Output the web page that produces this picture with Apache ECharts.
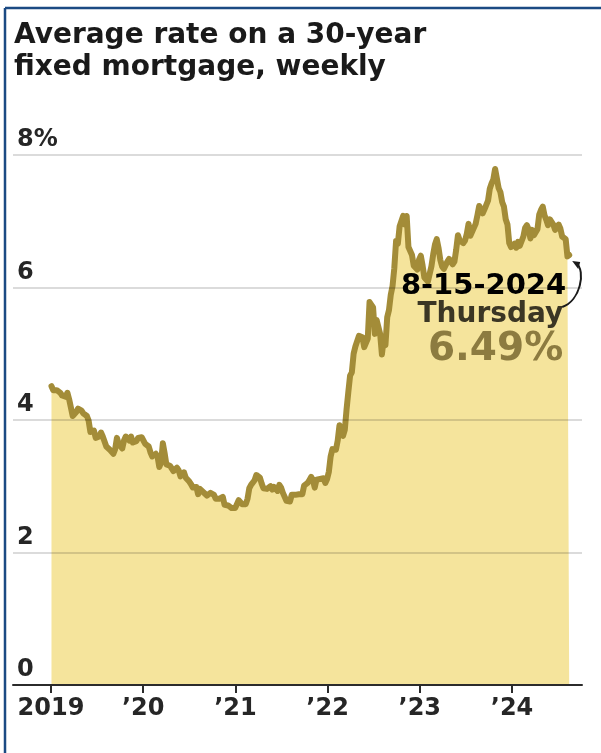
<!DOCTYPE html>
<html>
<head>
<meta charset="utf-8">
<script src="https://cdn.jsdelivr.net/npm/echarts@6/dist/echarts.min.js"></script>
<style>
html,body{margin:0;padding:0;background:#fff;}
#chart{width:601px;height:753px;}
</style>
</head>
<body>
<div id="chart"></div>
<script>
// Freddie Mac 30-year fixed, weekly, first release Thursday 2019-01-03
const firstWeek = '2019-01-03';
const rates2019 = [4.51,4.45,4.45,4.45,4.46,4.41,4.37,4.35,4.35,4.41,4.31,4.28,4.06,4.08,4.12,4.17,4.20,4.14,4.10,4.07,4.06,3.99,3.82,3.82,3.84,3.73,3.75,3.75,3.81,3.75,3.75,3.60,3.60,3.55,3.58,3.49,3.56,3.73,3.64,3.65,3.57,3.69,3.75,3.78,3.69,3.75,3.66,3.68,3.68,3.73,3.73,3.74];
const rates2020 = [3.72,3.64,3.65,3.60,3.51,3.45,3.47,3.49,3.45,3.29,3.36,3.65,3.50,3.33,3.33,3.31,3.33,3.23,3.26,3.28,3.24,3.15,3.18,3.21,3.13,3.13,3.07,3.03,2.98,3.01,2.99,2.88,2.96,2.99,2.91,2.93,2.86,2.87,2.90,2.88,2.87,2.81,2.80,2.81,2.78,2.84,2.72,2.72,2.71,2.71,2.67,2.66,2.67];
const rates2021 = [2.65,2.79,2.77,2.73,2.73,2.73,2.81,2.97,3.02,3.05,3.09,3.17,3.18,3.13,3.04,2.97,2.98,2.96,2.94,3.00,2.95,2.99,2.96,2.93,3.02,2.98,2.90,2.88,2.78,2.80,2.77,2.87,2.86,2.87,2.87,2.88,2.86,2.88,3.01,2.99,3.05,3.09,3.14,3.09,2.98,3.10,3.10,3.11,3.10,3.12,3.05,3.11];
const rates2022 = [3.22,3.45,3.56,3.55,3.55,3.69,3.92,3.89,3.76,3.85,4.16,4.42,4.67,4.72,5.00,5.11,5.10,5.27,5.30,5.25,5.10,5.09,5.23,5.78,5.81,5.70,5.30,5.51,5.54,5.30,4.99,5.22,5.13,5.55,5.66,5.89,6.02,6.29,6.70,6.66,6.92,6.94,7.08,6.95,7.08,6.61,6.58,6.49,6.33,6.31,6.27,6.42];
const rates2023 = [6.48,6.33,6.15,6.13,6.09,6.12,6.32,6.50,6.65,6.73,6.60,6.42,6.32,6.28,6.27,6.39,6.43,6.39,6.35,6.39,6.57,6.79,6.71,6.69,6.67,6.71,6.81,6.96,6.78,6.81,6.90,6.96,7.09,7.23,7.18,7.12,7.18,7.19,7.31,7.49,7.57,7.63,7.79,7.76,7.50,7.44,7.29,7.22,7.03,6.95,6.67,6.61];
const rates2024 = [6.62,6.66,6.60,6.69,6.63,6.64,6.77,6.90,6.94,6.88,6.74,6.87,6.79,6.82,6.88,7.10,7.17,7.22,7.09,7.02,6.94,7.03,6.99,6.95,6.87,6.86,6.95,6.89,6.77,6.78,6.73,6.47,6.49];

const yearTicks = [2019, 2020, 2021, 2022, 2023, 2024];
const yearLabels = ['2019', '\u201920', '\u201921', '\u201922', '\u201923', '\u201924'];
const yTicks = [0, 2, 4, 6, 8];

const titleText = 'Average rate on a 30-year\nfixed mortgage, weekly';
const noteDate = '8-15-2024';
const noteDay = 'Thursday';
const noteValue = '6.49%';

const allRates = [].concat(rates2019, rates2020, rates2021, rates2022, rates2023, rates2024);
const t0 = Date.parse(firstWeek + 'T00:00:00Z');
function decYear(t) {
  const d = new Date(t);
  const y = d.getUTCFullYear();
  const a = Date.UTC(y, 0, 1), b = Date.UTC(y + 1, 0, 1);
  return y + (t - a) / (b - a);
}
const seriesData = allRates.map((v, i) => [decYear(t0 + i * 7 * 86400000), v]);

const chart = echarts.init(document.getElementById('chart'), null, {renderer: 'canvas'});
const LINE = '#a38c38';
const FILL = '#f5e49c';
const LABEL_FONT = {fontFamily: 'DejaVu Sans', fontWeight: 'bold', fontSize: 24, color: '#262626'};

chart.setOption({
  animation: false,
  backgroundColor: '#ffffff',
  title: {
    text: titleText,
    left: 14, top: 20, padding: 0,
    textStyle: {fontFamily: 'DejaVu Sans', fontWeight: 'bold', fontSize: 28, lineHeight: 32, color: '#1a1a1a'}
  },
  grid: {left: 13, right: 19, top: 155, bottom: 68, containLabel: false},
  xAxis: {
    type: 'value',
    min: 2018.588, max: 2024.759,
    z: 4,
    axisLine: {show: true, onZero: false, lineStyle: {color: '#2b2b2b', width: 2}},
    axisTick: {show: true, customValues: yearTicks, length: 8, inside: false, lineStyle: {color: '#2b2b2b', width: 2}},
    axisLabel: Object.assign({
      customValues: yearTicks, margin: 12,
      formatter: v => yearLabels[yearTicks.indexOf(Math.round(v))] || ''
    }, LABEL_FONT),
    splitLine: {show: false}
  },
  yAxis: {
    type: 'value', min: 0, max: 8, interval: 2,
    z: 3,
    axisLine: {show: false}, axisTick: {show: false},
    axisLabel: Object.assign({
      inside: true, margin: 4, verticalAlign: 'bottom', padding: [0, 0, 3, 0],
      formatter: v => (v === 8 ? v + '%' : String(v))
    }, LABEL_FONT),
    splitLine: {show: true, lineStyle: {color: 'rgba(0,0,0,0.14)', width: 2}}
  },
  series: [{
    type: 'line',
    data: seriesData,
    showSymbol: false,
    z: 2,
    lineStyle: {color: LINE, width: 6, join: 'round', cap: 'round'},
    areaStyle: {color: FILL, opacity: 1},
    silent: true
  }]
});

function placeNote() {
  const last = seriesData[seriesData.length - 1];
  const p = chart.convertToPixel({gridIndex: 0}, last);
  const ex = p[0], ey = p[1];
  chart.setOption({
    graphic: [
      {type: 'line', shape: {x1: 5, y1: 8, x2: 5, y2: 753}, style: {stroke: '#1b4a83', lineWidth: 2.5}, z: 100},
      {type: 'line', shape: {x1: 5, y1: 8, x2: 601, y2: 8}, style: {stroke: '#1b4a83', lineWidth: 2.5}, z: 100},
      {type: 'text', x: ex - 3, y: ey + 31, z: 50,
        style: {text: noteDate, align: 'right', verticalAlign: 'middle', fontFamily: 'DejaVu Sans', fontWeight: 'bold', fontSize: 29, fill: '#000'}},
      {type: 'text', x: ex - 6, y: ey + 60, z: 50,
        style: {text: noteDay, align: 'right', verticalAlign: 'middle', fontFamily: 'DejaVu Sans', fontWeight: 'bold', fontSize: 28, fill: '#3b3624'}},
      {type: 'text', x: ex - 6, y: ey + 95, z: 50,
        style: {text: noteValue, align: 'right', verticalAlign: 'middle', fontFamily: 'DejaVu Sans', fontWeight: 'bold', fontSize: 39, fill: '#8c7b40'}},
      {type: 'bezierCurve', z: 50,
        shape: {x1: ex - 7, y1: ey + 52, cpx1: ex + 11, cpy1: ey + 46, cpx2: ex + 17, cpy2: ey + 16, x2: ex + 7, y2: ey + 8},
        style: {stroke: '#1a1a1a', lineWidth: 2, fill: null}},
      {type: 'polygon', z: 50,
        shape: {points: [[ex + 3, ey + 6], [ex + 11, ey + 7], [ex + 9, ey + 14]]},
        style: {fill: '#1a1a1a'}}
    ]
  });
}
placeNote();
</script>
</body>
</html>
